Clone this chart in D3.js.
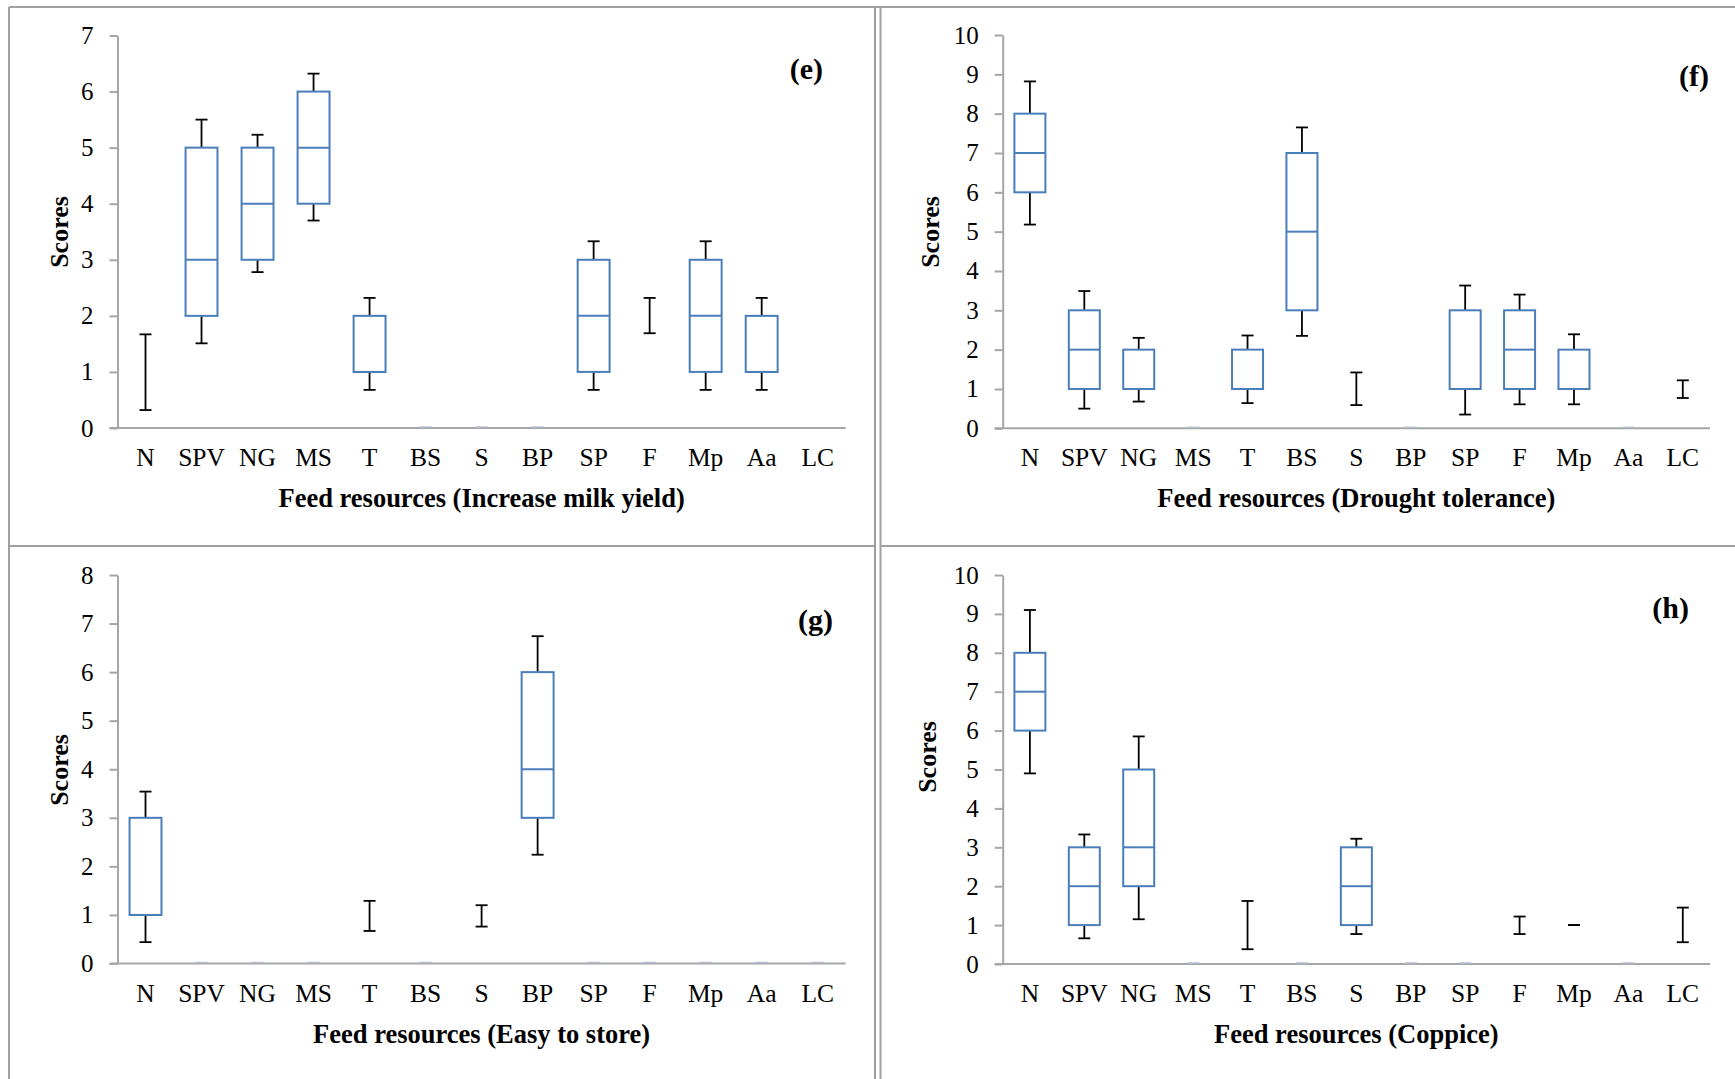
<!DOCTYPE html>
<html>
<head>
<meta charset="utf-8">
<script src="https://cdn.jsdelivr.net/npm/d3@7"></script>
<style>
  body { margin: 0; background: #fff; }
  svg { display: block; font-family: "Liberation Serif", "Times New Roman", serif; }
</style>
</head>
<body>
<div id="chart"></div>
<script>
// feed resource codes (x categories, same in all four panels)
const categories = ["N", "SPV", "NG", "MS", "T", "BS", "S", "BP", "SP", "F", "Mp", "Aa", "LC"];

// (e) Increase milk yield
const milkLow  = [0.32, 1.51, 2.78, 3.7, 0.68, 0, 0, 0, 0.68, 1.69, 0.68, 0.68, null];
const milkQ1   = [null, 2, 3, 4, 1, 0, 0, 0, 1, null, 1, 1, null];
const milkMed  = [null, 3, 4, 5, 1, 0, 0, 0, 2, null, 2, 1, null];
const milkQ3   = [null, 5, 5, 6, 2, 0, 0, 0, 3, null, 3, 2, null];
const milkHigh = [1.67, 5.5, 5.23, 6.32, 2.32, 0, 0, 0, 3.33, 2.32, 3.33, 2.32, null];

// (f) Drought tolerance
const droughtLow  = [5.18, 0.5, 0.68, 0, 0.64, 2.35, 0.59, 0, 0.35, 0.61, 0.61, 0, 0.77];
const droughtQ1   = [6, 1, 1, 0, 1, 3, null, 0, 1, 1, 1, 0, null];
const droughtMed  = [7, 2, 1, 0, 1, 5, null, 0, 1, 2, 1, 0, null];
const droughtQ3   = [8, 3, 2, 0, 2, 7, null, 0, 3, 3, 2, 0, null];
const droughtHigh = [8.82, 3.49, 2.3, 0, 2.36, 7.65, 1.42, 0, 3.63, 3.4, 2.39, 0, 1.22];

// (g) Easy to store
const storeLow  = [0.44, 0, 0, 0, 0.67, 0, 0.76, 2.24, 0, 0, 0, 0, 0];
const storeQ1   = [1, 0, 0, 0, null, 0, null, 3, 0, 0, 0, 0, 0];
const storeMed  = [1, 0, 0, 0, null, 0, null, 4, 0, 0, 0, 0, 0];
const storeQ3   = [3, 0, 0, 0, null, 0, null, 6, 0, 0, 0, 0, 0];
const storeHigh = [3.54, 0, 0, 0, 1.29, 0, 1.2, 6.74, 0, 0, 0, 0, 0];

// (h) Coppice
const coppiceLow  = [4.9, 0.66, 1.15, 0, 0.38, 0, 0.77, 0, 0, 0.77, 1, 0, 0.56];
const coppiceQ1   = [6, 1, 2, 0, null, 0, 1, 0, 0, null, null, 0, null];
const coppiceMed  = [7, 2, 3, 0, null, 0, 2, 0, 0, null, null, 0, null];
const coppiceQ3   = [8, 3, 5, 0, null, 0, 3, 0, 0, null, null, 0, null];
const coppiceHigh = [9.1, 3.33, 5.85, 0, 1.62, 0, 3.22, 0, 0, 1.22, 1, 0, 1.45];

const panels = [
  { tag: "(e)", title: "Feed resources (Increase milk yield)", max: 7,
    low: milkLow, q1: milkQ1, med: milkMed, q3: milkQ3, high: milkHigh,
    x0: 117.5, x1: 845.7, yBottom: 428, yTop: 35.5,
    tagX: 823, tagY: 68, scoresX: 59, scoresY: 232 },
  { tag: "(f)", title: "Feed resources (Drought tolerance)", max: 10,
    low: droughtLow, q1: droughtQ1, med: droughtMed, q3: droughtQ3, high: droughtHigh,
    x0: 1002.7, x1: 1710, yBottom: 428.3, yTop: 35,
    tagX: 1709, tagY: 75, scoresX: 930, scoresY: 232 },
  { tag: "(g)", title: "Feed resources (Easy to store)", max: 8,
    low: storeLow, q1: storeQ1, med: storeMed, q3: storeQ3, high: storeHigh,
    x0: 117.5, x1: 845.7, yBottom: 963.5, yTop: 575,
    tagX: 833, tagY: 619, scoresX: 59, scoresY: 770 },
  { tag: "(h)", title: "Feed resources (Coppice)", max: 10,
    low: coppiceLow, q1: coppiceQ1, med: coppiceMed, q3: coppiceQ3, high: coppiceHigh,
    x0: 1002.7, x1: 1710, yBottom: 964, yTop: 575,
    tagX: 1689, tagY: 607, scoresX: 927, scoresY: 757 }
];

const width = 1735, height = 1079;
const axisColor = "#a6a6a6";
const boxColor = "#4a7ebb";
const serif = "'Liberation Serif', 'Times New Roman', serif";

const svg = d3.select("#chart").append("svg")
  .attr("width", width)
  .attr("height", height);

svg.append("rect").attr("width", width).attr("height", height).attr("fill", "#fff");

// panel frames (doubled line between left and right column)
const frame = svg.append("g")
  .attr("fill", "none")
  .attr("stroke", "#a0a0a0")
  .attr("stroke-width", 2);
frame.append("line").attr("x1", 9).attr("y1", 7).attr("x2", width).attr("y2", 7);
frame.append("line").attr("x1", 9).attr("y1", 7).attr("x2", 9).attr("y2", height);
frame.append("line").attr("x1", 875).attr("y1", 7).attr("x2", 875).attr("y2", height);
frame.append("line").attr("x1", 880.5).attr("y1", 7).attr("x2", 880.5).attr("y2", height);
frame.append("line").attr("x1", 9).attr("y1", 546).attr("x2", 875).attr("y2", 546);
frame.append("line").attr("x1", 880.5).attr("y1", 546).attr("x2", width).attr("y2", 546);

panels.forEach(p => drawPanel(p));

function drawPanel(p) {
  const g = svg.append("g");

  const x = d3.scaleBand()
    .domain(categories)
    .range([p.x0, p.x1]);

  const y = d3.scaleLinear()
    .domain([0, p.max])
    .range([p.yBottom, p.yTop]);

  const boxW = x.bandwidth() * 0.57;
  const capW = 12;

  // y axis
  const yAxis = g.append("g")
    .attr("transform", `translate(${p.x0},0)`)
    .call(d3.axisLeft(y).ticks(p.max).tickFormat(d3.format("d"))
      .tickSize(8).tickSizeOuter(0).tickPadding(16));
  yAxis.attr("font-family", null).attr("font-size", null);
  yAxis.select(".domain").attr("stroke", axisColor).attr("stroke-width", 2);
  yAxis.selectAll(".tick line").attr("stroke", axisColor).attr("stroke-width", 2);
  yAxis.selectAll(".tick text")
    .style("font-family", serif)
    .style("font-size", "25px")
    .attr("fill", "#000");

  // x axis line, starting under the tick marks
  g.append("line")
    .attr("x1", p.x0 - 8).attr("x2", p.x1)
    .attr("y1", y(0)).attr("y2", y(0))
    .attr("stroke", axisColor).attr("stroke-width", 2);

  const xAxis = g.append("g")
    .attr("transform", `translate(0,${p.yBottom})`)
    .call(d3.axisBottom(x).tickSize(0).tickPadding(20));
  xAxis.attr("font-family", null).attr("font-size", null);
  xAxis.select(".domain").remove();
  xAxis.selectAll(".tick text")
    .style("font-family", serif)
    .style("font-size", "25.5px")
    .attr("fill", "#000");

  // boxes and whiskers
  categories.forEach((c, i) => {
    const cx = x(c) + x.bandwidth() / 2;
    const lo = p.low[i], hi = p.high[i];
    const q1 = p.q1[i], med = p.med[i], q3 = p.q3[i];
    if (lo == null && hi == null) return;

    if (hi === 0 && lo === 0) {
      // zero-height box sitting on the axis
      g.append("line")
        .attr("x1", cx - 6).attr("x2", cx + 6)
        .attr("y1", y(0) - 1).attr("y2", y(0) - 1)
        .attr("stroke", "#b4bfd0").attr("stroke-width", 1.5);
      return;
    }

    const wk = g.append("g").attr("stroke", "#000").attr("stroke-width", 1.8);
    if (q1 == null) {
      wk.append("line").attr("x1", cx).attr("x2", cx).attr("y1", y(lo)).attr("y2", y(hi));
    } else {
      wk.append("line").attr("x1", cx).attr("x2", cx).attr("y1", y(lo)).attr("y2", y(q1));
      wk.append("line").attr("x1", cx).attr("x2", cx).attr("y1", y(q3)).attr("y2", y(hi));
    }
    [lo, hi].forEach(v => {
      wk.append("line")
        .attr("x1", cx - capW / 2).attr("x2", cx + capW / 2)
        .attr("y1", y(v)).attr("y2", y(v));
    });

    if (q1 != null) {
      g.append("rect")
        .attr("x", cx - boxW / 2)
        .attr("width", boxW)
        .attr("y", y(q3))
        .attr("height", y(q1) - y(q3))
        .attr("fill", "#fff")
        .attr("stroke", boxColor)
        .attr("stroke-width", 2);
      g.append("line")
        .attr("x1", cx - boxW / 2).attr("x2", cx + boxW / 2)
        .attr("y1", y(med)).attr("y2", y(med))
        .attr("stroke", boxColor).attr("stroke-width", 2);
    }
  });

  // titles
  g.append("text")
    .attr("x", (p.x0 + p.x1) / 2)
    .attr("y", p.yBottom + 70)
    .attr("text-anchor", "middle")
    .attr("dominant-baseline", "central")
    .attr("font-size", 26.5)
    .attr("font-weight", "bold")
    .text(p.title);

  g.append("text")
    .attr("transform", `translate(${p.scoresX},${p.scoresY}) rotate(-90)`)
    .attr("text-anchor", "middle")
    .attr("dominant-baseline", "central")
    .attr("font-size", 26)
    .attr("font-weight", "bold")
    .text("Scores");

  g.append("text")
    .attr("x", p.tagX)
    .attr("y", p.tagY)
    .attr("text-anchor", "end")
    .attr("dominant-baseline", "central")
    .attr("font-size", 30)
    .attr("font-weight", "bold")
    .text(p.tag);
}
</script>
</body>
</html>
